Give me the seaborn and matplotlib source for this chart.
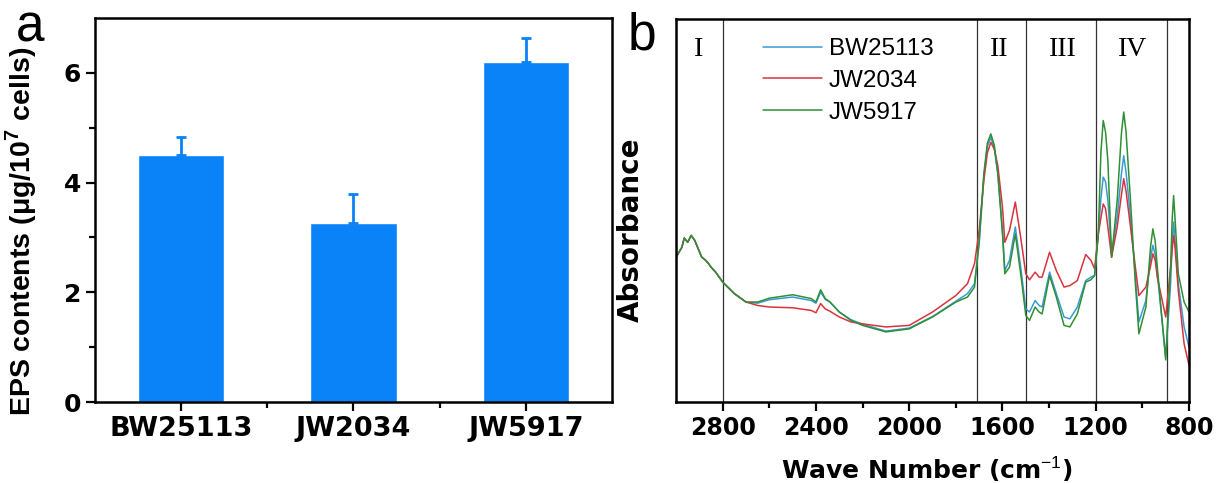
import numpy as np
import pandas as pd
import matplotlib
matplotlib.use("Agg")
import matplotlib.pyplot as plt
from matplotlib.ticker import FixedLocator, NullLocator
import seaborn as sns

# panel a: EPS contents
strains = ["BW25113", "JW2034", "JW5917"]
eps_mean = [4.51, 3.27, 6.20]
eps_err = [0.33, 0.53, 0.44]

# panel b: FTIR spectra (absorbance, arbitrary units)
wave = [3000, 2975, 2965, 2950, 2935, 2920, 2905, 2890, 2875, 2860, 2850, 2830,
        2800, 2750, 2700, 2650, 2600, 2500, 2420, 2400, 2380, 2360, 2340, 2300,
        2250, 2200, 2100, 2000, 1900, 1800, 1750, 1720, 1700, 1680, 1665, 1650,
        1635, 1620, 1600, 1590, 1570, 1545, 1520, 1500, 1484, 1460, 1443, 1430,
        1398, 1369, 1336, 1311, 1279, 1243, 1221, 1205, 1189, 1178, 1168, 1158,
        1148, 1132, 1108, 1090, 1080, 1070, 1051, 1030, 1015, 985, 965, 955,
        945, 936, 900, 879, 872, 866, 860, 846, 821, 800]
common_head = [37.8, 40.4, 42.8, 41.7, 43.5, 42.2, 40.0, 37.8, 37.1, 36.1, 35.2,
               33.9, 31.3, 28.3, 26.1]
bw25113 = common_head + [
    25.8, 26.7, 27.4, 26.5, 25.8, 28.7, 26.8, 26.1, 23.5, 21.5, 20.3, 18.5,
    19.3, 22.3, 26.3, 28.3, 30.9, 41.3, 58.7, 66.7, 69.1, 66.3, 59.6, 44.8,
    34.3, 37.0, 45.7, 34.3, 24.3, 23.5, 26.5, 25.2, 24.8, 33.9, 28.3, 22.2,
    21.7, 24.8, 31.7, 32.6, 33.0, 43.9, 53.0, 58.7, 57.5, 52.6, 38.7, 48.3,
    59.5, 64.3, 60.0, 48.3, 32.6, 20.9, 26.5, 37.5, 40.9, 38.5, 33.5, 11.7,
    30.9, 42.0, 47.0, 42.0, 30.9, 19.6, 14.3]
jw2034 = common_head + [
    25.2, 24.8, 24.6, 23.9, 23.3, 25.7, 24.3, 23.7, 22.2, 20.9, 20.4, 19.6,
    20.0, 23.5, 27.8, 30.9, 36.1, 44.8, 57.8, 65.0, 67.8, 66.0, 61.7, 50.9,
    41.7, 44.8, 52.2, 42.2, 33.5, 31.9, 33.9, 32.6, 32.6, 39.1, 34.3, 30.0,
    30.4, 31.7, 38.5, 37.0, 34.8, 43.9, 48.0, 51.7, 50.5, 45.7, 37.8, 45.7,
    54.0, 58.3, 55.0, 45.7, 35.2, 27.8, 30.0, 35.5, 38.7, 37.0, 32.6, 22.2,
    35.2, 40.0, 43.5, 40.5, 29.1, 15.2, 9.6]
jw5917 = common_head + [
    26.1, 27.1, 28.0, 27.0, 26.1, 29.3, 27.0, 26.1, 23.5, 21.3, 20.0, 18.3,
    19.1, 22.2, 26.1, 27.4, 30.0, 42.2, 59.6, 67.5, 70.0, 67.0, 59.6, 43.9,
    33.5, 35.2, 43.9, 32.6, 22.6, 21.3, 24.8, 23.5, 23.0, 33.0, 27.4, 20.0,
    19.6, 23.0, 31.3, 31.9, 33.0, 43.9, 65.0, 73.5, 70.5, 63.0, 37.8, 52.6,
    70.0, 75.7, 70.5, 52.6, 30.9, 17.8, 24.8, 40.5, 45.2, 42.0, 35.2, 11.0,
    35.2, 48.0, 53.9, 48.0, 33.5, 26.1, 23.5]
region_lines = [2800, 1710, 1500, 1200, 893]
region_names = ["I", "II", "III", "IV"]
region_pos = [2905, 1615, 1342, 1041]

spectra = pd.DataFrame({"wave": wave * 3,
                        "absorbance": bw25113 + jw2034 + jw5917,
                        "strain": ["BW25113"] * len(wave) + ["JW2034"] * len(wave)
                                  + ["JW5917"] * len(wave)})

sns.set_style("ticks")
plt.rcParams["font.family"] = ["Liberation Sans", "DejaVu Sans"]
plt.rcParams["mathtext.fontset"] = "custom"
plt.rcParams["mathtext.rm"] = "Liberation Sans"
plt.rcParams["mathtext.bf"] = "Liberation Sans:bold"
for key in ["text.color", "axes.labelcolor", "xtick.color", "ytick.color",
            "axes.edgecolor"]:
    plt.rcParams[key] = "black"

fig = plt.figure(figsize=(12.19, 4.83), dpi=100)
ax1 = fig.add_axes([0.0779, 0.1677, 0.4241, 0.795])
ax2 = fig.add_axes([0.5546, 0.1677, 0.4208, 0.793])

bold_font = {"family": "DejaVu Sans", "weight": "bold"}

bar_color = "#0a82f8"
sns.barplot(x=strains, y=eps_mean, color=bar_color, width=0.5, saturation=1,
            ax=ax1)
ax1.errorbar(range(3), eps_mean, yerr=[[0, 0, 0], eps_err], fmt="none",
             ecolor=bar_color, elinewidth=2, capsize=3.6, capthick=2)
ax1.set_xlim(-0.5, 2.5)
ax1.set_ylim(0, 7)
ax1.yaxis.set_major_locator(FixedLocator([0, 2, 4, 6]))
ax1.yaxis.set_minor_locator(FixedLocator([1, 3, 5]))
ax1.xaxis.set_minor_locator(FixedLocator([0.5, 1.5]))
ax1.set_xlabel("")
ax1.set_ylabel("EPS contents (\u03bcg/10$^{\\mathbf{7}}$ cells)", fontsize=20.5,
               fontweight="bold")
ax1.yaxis.set_label_coords(-0.108, 0.443)
for lab in ax1.get_xticklabels():
    lab.set_fontproperties(bold_font)
    lab.set_fontsize(19.5)
for lab in ax1.get_yticklabels():
    lab.set_fontproperties(bold_font)
    lab.set_fontsize(18)
ax1.tick_params(which="major", length=6.5, width=1.6)
ax1.tick_params(which="minor", length=4.5, width=1.6)
fig.text(16 / 1219, 1 - 42 / 483, "a", fontsize=37, ha="left", va="baseline")

palette = {"BW25113": "#3a9ad6", "JW2034": "#d8343c", "JW5917": "#2f8f35"}
sns.lineplot(data=spectra, x="wave", y="absorbance", hue="strain",
             palette=palette, linewidth=1.1, ax=ax2, sort=False,
             estimator=None)
for xv in region_lines:
    ax2.axvline(xv, color="#333333", linewidth=0.9, zorder=0)
for name, xp in zip(region_names, region_pos):
    ax2.text(xp, 92, name, fontsize=20, ha="center", va="center",
             family="Liberation Serif")
ax2.set_xlim(3000, 800)
ax2.set_ylim(0, 100)
ax2.xaxis.set_major_locator(FixedLocator([2800, 2400, 2000, 1600, 1200, 800]))
ax2.xaxis.set_minor_locator(FixedLocator([2600, 2200, 1800, 1400, 1000]))
ax2.yaxis.set_major_locator(NullLocator())
ax2.set_xlabel("Wave Number (cm$^{-1}$)", fontdict=bold_font, fontsize=18)
ax2.xaxis.set_label_coords(0.489, -0.138)
ax2.xaxis.label.set_va("top")
ax2.set_ylabel("Absorbance", fontdict=bold_font, fontsize=20)
ax2.yaxis.set_label_coords(-0.06, 0.45)
for lab in ax2.get_xticklabels():
    lab.set_fontproperties(bold_font)
    lab.set_fontsize(17)
ax2.tick_params(which="major", length=6.5, width=1.6)
ax2.tick_params(which="minor", length=4.5, width=1.6)
ax2.legend(loc="upper left", bbox_to_anchor=(0.170, 0.95), frameon=False,
           fontsize=17.5, handlelength=2.4, labelspacing=0.4, borderpad=0,
           borderaxespad=0, handletextpad=0.3)
fig.text(628 / 1219, 1 - 50 / 483, "b", fontsize=37, ha="left", va="baseline")

for ax in (ax1, ax2):
    for sp in ax.spines.values():
        sp.set_linewidth(1.8)
        sp.set_color("black")

fig.savefig("out.png", dpi=100)
